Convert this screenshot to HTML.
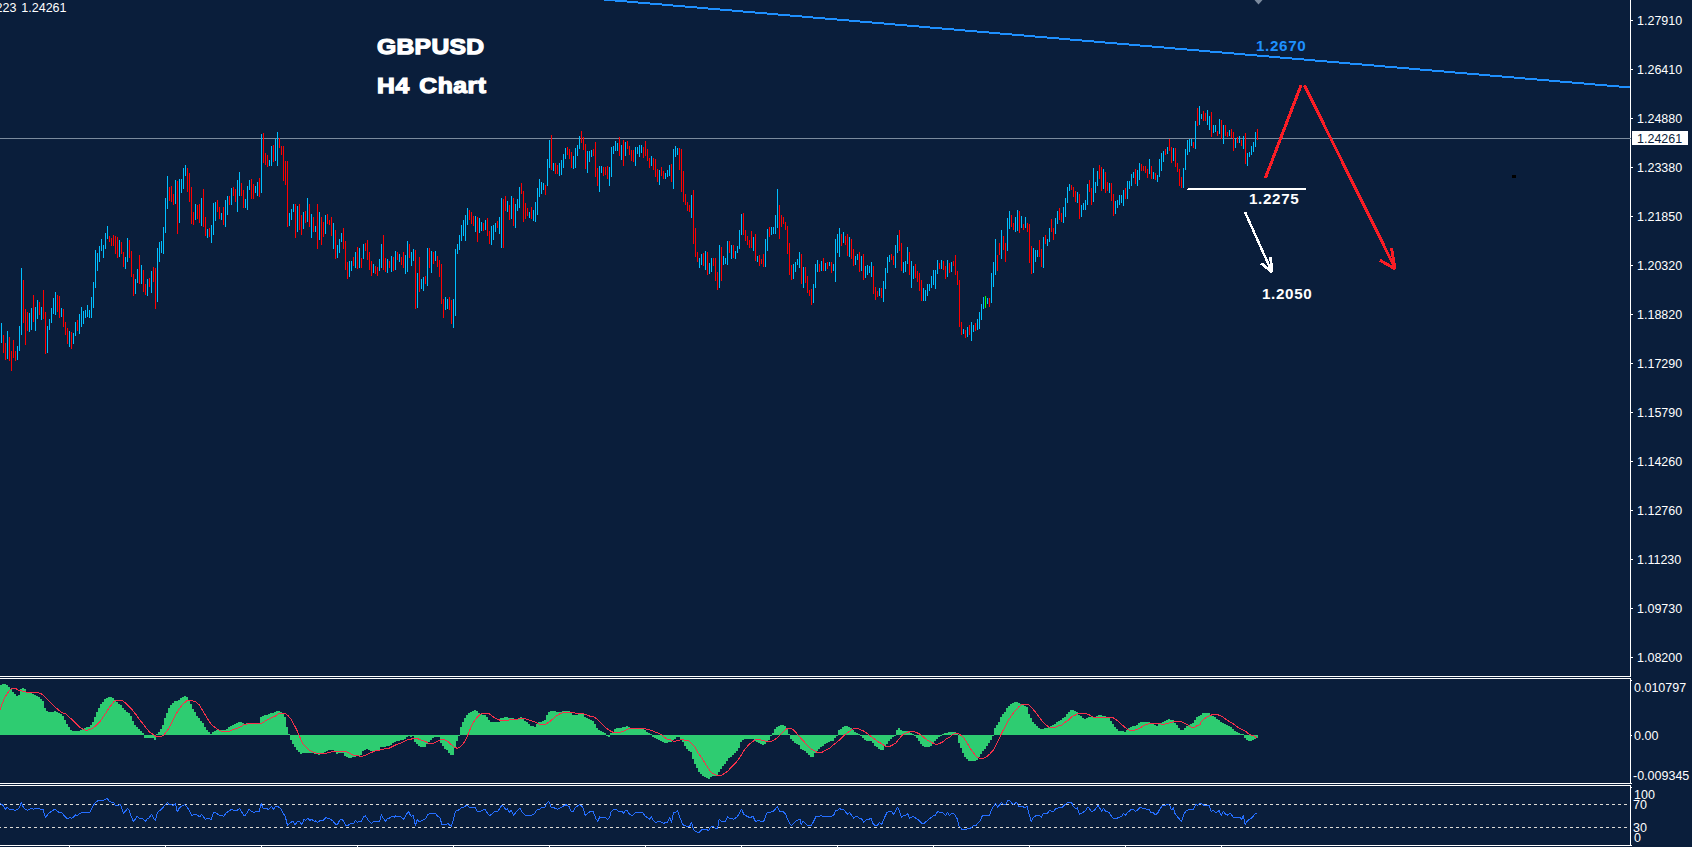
<!DOCTYPE html><html><head><meta charset="utf-8"><title>GBPUSD H4</title><style>
html,body{margin:0;padding:0;background:#0a1e3b;}
body{width:1692px;height:847px;overflow:hidden;position:relative;font-family:"Liberation Sans",sans-serif;}
.ax{position:absolute;color:#fff;font-size:12.5px;line-height:14px;white-space:nowrap;letter-spacing:0px}
.cur{position:absolute;background:#fff;color:#0a1e3b;font-size:12.5px;line-height:14px;white-space:nowrap}
.cur span{position:absolute;left:5px;top:1px}
.ttl{position:absolute;color:#fff;font-weight:bold;font-size:21.8px;line-height:28px;white-space:nowrap;-webkit-text-stroke:1.25px #fff;letter-spacing:0.3px;transform:scaleX(1.13);transform-origin:0 0}
.lv{position:absolute;color:#fff;font-weight:bold;font-size:14px;line-height:16px;white-space:nowrap;letter-spacing:0.6px;transform:scaleX(1.085);transform-origin:0 0}
</style></head><body><svg width="1692" height="847" viewBox="0 0 1692 847" shape-rendering="crispEdges" style="position:absolute;left:0;top:0"><rect x="1630" y="0" width="1" height="677" fill="#ffffff"/><rect x="0" y="676" width="1631" height="1" fill="#ffffff"/><rect x="0" y="678" width="1631" height="1" fill="#ffffff"/><rect x="1630" y="678" width="1" height="106" fill="#ffffff"/><rect x="0" y="783" width="1632" height="1" fill="#ffffff"/><rect x="0" y="785" width="1631" height="1" fill="#ffffff"/><rect x="1630" y="785" width="1" height="61" fill="#ffffff"/><rect x="0" y="845" width="1632" height="1" fill="#ffffff"/><rect x="1631" y="20" width="2" height="1" fill="#ffffff"/><rect x="1631" y="69" width="2" height="1" fill="#ffffff"/><rect x="1631" y="118" width="2" height="1" fill="#ffffff"/><rect x="1631" y="167" width="2" height="1" fill="#ffffff"/><rect x="1631" y="216" width="2" height="1" fill="#ffffff"/><rect x="1631" y="265" width="2" height="1" fill="#ffffff"/><rect x="1631" y="314" width="2" height="1" fill="#ffffff"/><rect x="1631" y="363" width="2" height="1" fill="#ffffff"/><rect x="1631" y="412" width="2" height="1" fill="#ffffff"/><rect x="1631" y="461" width="2" height="1" fill="#ffffff"/><rect x="1631" y="510" width="2" height="1" fill="#ffffff"/><rect x="1631" y="559" width="2" height="1" fill="#ffffff"/><rect x="1631" y="608" width="2" height="1" fill="#ffffff"/><rect x="1631" y="657" width="2" height="1" fill="#ffffff"/><rect x="1631" y="680" width="1" height="1" fill="#ffffff"/><rect x="1631" y="735" width="1" height="1" fill="#ffffff"/><rect x="1631" y="787" width="1" height="1" fill="#ffffff"/><rect x="69" y="846" width="1" height="1" fill="#ffffff"/><rect x="165" y="846" width="1" height="1" fill="#ffffff"/><rect x="261" y="846" width="1" height="1" fill="#ffffff"/><rect x="357" y="846" width="1" height="1" fill="#ffffff"/><rect x="453" y="846" width="1" height="1" fill="#ffffff"/><rect x="549" y="846" width="1" height="1" fill="#ffffff"/><rect x="645" y="846" width="1" height="1" fill="#ffffff"/><rect x="741" y="846" width="1" height="1" fill="#ffffff"/><rect x="837" y="846" width="1" height="1" fill="#ffffff"/><rect x="933" y="846" width="1" height="1" fill="#ffffff"/><rect x="1029" y="846" width="1" height="1" fill="#ffffff"/><rect x="1125" y="846" width="1" height="1" fill="#ffffff"/><rect x="1221" y="846" width="1" height="1" fill="#ffffff"/><rect x="0" y="138" width="1631" height="1" fill="#7b8b9d"/><path d="M0 804.5H1M4 804.5H7M10 804.5H13M16 804.5H19M22 804.5H25M28 804.5H31M34 804.5H37M40 804.5H43M46 804.5H49M52 804.5H55M58 804.5H61M64 804.5H67M70 804.5H73M76 804.5H79M82 804.5H85M88 804.5H91M94 804.5H97M100 804.5H103M106 804.5H109M112 804.5H115M118 804.5H121M124 804.5H127M130 804.5H133M136 804.5H139M142 804.5H145M148 804.5H151M154 804.5H157M160 804.5H163M166 804.5H169M172 804.5H175M178 804.5H181M184 804.5H187M190 804.5H193M196 804.5H199M202 804.5H205M208 804.5H211M214 804.5H217M220 804.5H223M226 804.5H229M232 804.5H235M238 804.5H241M244 804.5H247M250 804.5H253M256 804.5H259M262 804.5H265M268 804.5H271M274 804.5H277M280 804.5H283M286 804.5H289M292 804.5H295M298 804.5H301M304 804.5H307M310 804.5H313M316 804.5H319M322 804.5H325M328 804.5H331M334 804.5H337M340 804.5H343M346 804.5H349M352 804.5H355M358 804.5H361M364 804.5H367M370 804.5H373M376 804.5H379M382 804.5H385M388 804.5H391M394 804.5H397M400 804.5H403M406 804.5H409M412 804.5H415M418 804.5H421M424 804.5H427M430 804.5H433M436 804.5H439M442 804.5H445M448 804.5H451M454 804.5H457M460 804.5H463M466 804.5H469M472 804.5H475M478 804.5H481M484 804.5H487M490 804.5H493M496 804.5H499M502 804.5H505M508 804.5H511M514 804.5H517M520 804.5H523M526 804.5H529M532 804.5H535M538 804.5H541M544 804.5H547M550 804.5H553M556 804.5H559M562 804.5H565M568 804.5H571M574 804.5H577M580 804.5H583M586 804.5H589M592 804.5H595M598 804.5H601M604 804.5H607M610 804.5H613M616 804.5H619M622 804.5H625M628 804.5H631M634 804.5H637M640 804.5H643M646 804.5H649M652 804.5H655M658 804.5H661M664 804.5H667M670 804.5H673M676 804.5H679M682 804.5H685M688 804.5H691M694 804.5H697M700 804.5H703M706 804.5H709M712 804.5H715M718 804.5H721M724 804.5H727M730 804.5H733M736 804.5H739M742 804.5H745M748 804.5H751M754 804.5H757M760 804.5H763M766 804.5H769M772 804.5H775M778 804.5H781M784 804.5H787M790 804.5H793M796 804.5H799M802 804.5H805M808 804.5H811M814 804.5H817M820 804.5H823M826 804.5H829M832 804.5H835M838 804.5H841M844 804.5H847M850 804.5H853M856 804.5H859M862 804.5H865M868 804.5H871M874 804.5H877M880 804.5H883M886 804.5H889M892 804.5H895M898 804.5H901M904 804.5H907M910 804.5H913M916 804.5H919M922 804.5H925M928 804.5H931M934 804.5H937M940 804.5H943M946 804.5H949M952 804.5H955M958 804.5H961M964 804.5H967M970 804.5H973M976 804.5H979M982 804.5H985M988 804.5H991M994 804.5H997M1000 804.5H1003M1006 804.5H1009M1012 804.5H1015M1018 804.5H1021M1024 804.5H1027M1030 804.5H1033M1036 804.5H1039M1042 804.5H1045M1048 804.5H1051M1054 804.5H1057M1060 804.5H1063M1066 804.5H1069M1072 804.5H1075M1078 804.5H1081M1084 804.5H1087M1090 804.5H1093M1096 804.5H1099M1102 804.5H1105M1108 804.5H1111M1114 804.5H1117M1120 804.5H1123M1126 804.5H1129M1132 804.5H1135M1138 804.5H1141M1144 804.5H1147M1150 804.5H1153M1156 804.5H1159M1162 804.5H1165M1168 804.5H1171M1174 804.5H1177M1180 804.5H1183M1186 804.5H1189M1192 804.5H1195M1198 804.5H1201M1204 804.5H1207M1210 804.5H1213M1216 804.5H1219M1222 804.5H1225M1228 804.5H1231M1234 804.5H1237M1240 804.5H1243M1246 804.5H1249M1252 804.5H1255M1258 804.5H1261M1264 804.5H1267M1270 804.5H1273M1276 804.5H1279M1282 804.5H1285M1288 804.5H1291M1294 804.5H1297M1300 804.5H1303M1306 804.5H1309M1312 804.5H1315M1318 804.5H1321M1324 804.5H1327M1330 804.5H1333M1336 804.5H1339M1342 804.5H1345M1348 804.5H1351M1354 804.5H1357M1360 804.5H1363M1366 804.5H1369M1372 804.5H1375M1378 804.5H1381M1384 804.5H1387M1390 804.5H1393M1396 804.5H1399M1402 804.5H1405M1408 804.5H1411M1414 804.5H1417M1420 804.5H1423M1426 804.5H1429M1432 804.5H1435M1438 804.5H1441M1444 804.5H1447M1450 804.5H1453M1456 804.5H1459M1462 804.5H1465M1468 804.5H1471M1474 804.5H1477M1480 804.5H1483M1486 804.5H1489M1492 804.5H1495M1498 804.5H1501M1504 804.5H1507M1510 804.5H1513M1516 804.5H1519M1522 804.5H1525M1528 804.5H1531M1534 804.5H1537M1540 804.5H1543M1546 804.5H1549M1552 804.5H1555M1558 804.5H1561M1564 804.5H1567M1570 804.5H1573M1576 804.5H1579M1582 804.5H1585M1588 804.5H1591M1594 804.5H1597M1600 804.5H1603M1606 804.5H1609M1612 804.5H1615M1618 804.5H1621M1624 804.5H1627" stroke="#dddbd5" stroke-width="1" fill="none"/><path d="M0 827.5H1M4 827.5H7M10 827.5H13M16 827.5H19M22 827.5H25M28 827.5H31M34 827.5H37M40 827.5H43M46 827.5H49M52 827.5H55M58 827.5H61M64 827.5H67M70 827.5H73M76 827.5H79M82 827.5H85M88 827.5H91M94 827.5H97M100 827.5H103M106 827.5H109M112 827.5H115M118 827.5H121M124 827.5H127M130 827.5H133M136 827.5H139M142 827.5H145M148 827.5H151M154 827.5H157M160 827.5H163M166 827.5H169M172 827.5H175M178 827.5H181M184 827.5H187M190 827.5H193M196 827.5H199M202 827.5H205M208 827.5H211M214 827.5H217M220 827.5H223M226 827.5H229M232 827.5H235M238 827.5H241M244 827.5H247M250 827.5H253M256 827.5H259M262 827.5H265M268 827.5H271M274 827.5H277M280 827.5H283M286 827.5H289M292 827.5H295M298 827.5H301M304 827.5H307M310 827.5H313M316 827.5H319M322 827.5H325M328 827.5H331M334 827.5H337M340 827.5H343M346 827.5H349M352 827.5H355M358 827.5H361M364 827.5H367M370 827.5H373M376 827.5H379M382 827.5H385M388 827.5H391M394 827.5H397M400 827.5H403M406 827.5H409M412 827.5H415M418 827.5H421M424 827.5H427M430 827.5H433M436 827.5H439M442 827.5H445M448 827.5H451M454 827.5H457M460 827.5H463M466 827.5H469M472 827.5H475M478 827.5H481M484 827.5H487M490 827.5H493M496 827.5H499M502 827.5H505M508 827.5H511M514 827.5H517M520 827.5H523M526 827.5H529M532 827.5H535M538 827.5H541M544 827.5H547M550 827.5H553M556 827.5H559M562 827.5H565M568 827.5H571M574 827.5H577M580 827.5H583M586 827.5H589M592 827.5H595M598 827.5H601M604 827.5H607M610 827.5H613M616 827.5H619M622 827.5H625M628 827.5H631M634 827.5H637M640 827.5H643M646 827.5H649M652 827.5H655M658 827.5H661M664 827.5H667M670 827.5H673M676 827.5H679M682 827.5H685M688 827.5H691M694 827.5H697M700 827.5H703M706 827.5H709M712 827.5H715M718 827.5H721M724 827.5H727M730 827.5H733M736 827.5H739M742 827.5H745M748 827.5H751M754 827.5H757M760 827.5H763M766 827.5H769M772 827.5H775M778 827.5H781M784 827.5H787M790 827.5H793M796 827.5H799M802 827.5H805M808 827.5H811M814 827.5H817M820 827.5H823M826 827.5H829M832 827.5H835M838 827.5H841M844 827.5H847M850 827.5H853M856 827.5H859M862 827.5H865M868 827.5H871M874 827.5H877M880 827.5H883M886 827.5H889M892 827.5H895M898 827.5H901M904 827.5H907M910 827.5H913M916 827.5H919M922 827.5H925M928 827.5H931M934 827.5H937M940 827.5H943M946 827.5H949M952 827.5H955M958 827.5H961M964 827.5H967M970 827.5H973M976 827.5H979M982 827.5H985M988 827.5H991M994 827.5H997M1000 827.5H1003M1006 827.5H1009M1012 827.5H1015M1018 827.5H1021M1024 827.5H1027M1030 827.5H1033M1036 827.5H1039M1042 827.5H1045M1048 827.5H1051M1054 827.5H1057M1060 827.5H1063M1066 827.5H1069M1072 827.5H1075M1078 827.5H1081M1084 827.5H1087M1090 827.5H1093M1096 827.5H1099M1102 827.5H1105M1108 827.5H1111M1114 827.5H1117M1120 827.5H1123M1126 827.5H1129M1132 827.5H1135M1138 827.5H1141M1144 827.5H1147M1150 827.5H1153M1156 827.5H1159M1162 827.5H1165M1168 827.5H1171M1174 827.5H1177M1180 827.5H1183M1186 827.5H1189M1192 827.5H1195M1198 827.5H1201M1204 827.5H1207M1210 827.5H1213M1216 827.5H1219M1222 827.5H1225M1228 827.5H1231M1234 827.5H1237M1240 827.5H1243M1246 827.5H1249M1252 827.5H1255M1258 827.5H1261M1264 827.5H1267M1270 827.5H1273M1276 827.5H1279M1282 827.5H1285M1288 827.5H1291M1294 827.5H1297M1300 827.5H1303M1306 827.5H1309M1312 827.5H1315M1318 827.5H1321M1324 827.5H1327M1330 827.5H1333M1336 827.5H1339M1342 827.5H1345M1348 827.5H1351M1354 827.5H1357M1360 827.5H1363M1366 827.5H1369M1372 827.5H1375M1378 827.5H1381M1384 827.5H1387M1390 827.5H1393M1396 827.5H1399M1402 827.5H1405M1408 827.5H1411M1414 827.5H1417M1420 827.5H1423M1426 827.5H1429M1432 827.5H1435M1438 827.5H1441M1444 827.5H1447M1450 827.5H1453M1456 827.5H1459M1462 827.5H1465M1468 827.5H1471M1474 827.5H1477M1480 827.5H1483M1486 827.5H1489M1492 827.5H1495M1498 827.5H1501M1504 827.5H1507M1510 827.5H1513M1516 827.5H1519M1522 827.5H1525M1528 827.5H1531M1534 827.5H1537M1540 827.5H1543M1546 827.5H1549M1552 827.5H1555M1558 827.5H1561M1564 827.5H1567M1570 827.5H1573M1576 827.5H1579M1582 827.5H1585M1588 827.5H1591M1594 827.5H1597M1600 827.5H1603M1606 827.5H1609M1612 827.5H1615M1618 827.5H1621M1624 827.5H1627" stroke="#dddbd5" stroke-width="1" fill="none"/><path d="M0 685h2V735h-2zM2 684h2V735h-2zM4 684h2V735h-2zM6 685h2V735h-2zM8 687h2V735h-2zM10 689h2V735h-2zM12 692h2V735h-2zM14 694h2V735h-2zM16 696h2V735h-2zM18 695h2V735h-2zM20 689h2V735h-2zM22 688h2V735h-2zM24 689h2V735h-2zM26 692h2V735h-2zM28 692h2V735h-2zM30 693h2V735h-2zM32 694h2V735h-2zM34 695h2V735h-2zM36 696h2V735h-2zM38 697h2V735h-2zM40 699h2V735h-2zM42 701h2V735h-2zM44 708h2V735h-2zM46 711h2V735h-2zM48 712h2V735h-2zM50 712h2V735h-2zM52 712h2V735h-2zM54 711h2V735h-2zM56 712h2V735h-2zM58 713h2V735h-2zM60 714h2V735h-2zM62 716h2V735h-2zM64 720h2V735h-2zM66 724h2V735h-2zM68 727h2V735h-2zM70 730h2V735h-2zM72 731h2V735h-2zM74 731h2V735h-2zM76 731h2V735h-2zM78 731h2V735h-2zM80 730h2V735h-2zM82 729h2V735h-2zM84 728h2V735h-2zM86 727h2V735h-2zM88 727h2V735h-2zM90 725h2V735h-2zM92 722h2V735h-2zM94 717h2V735h-2zM96 712h2V735h-2zM98 708h2V735h-2zM100 704h2V735h-2zM102 702h2V735h-2zM104 699h2V735h-2zM106 698h2V735h-2zM108 697h2V735h-2zM110 697h2V735h-2zM112 698h2V735h-2zM114 700h2V735h-2zM116 702h2V735h-2zM118 704h2V735h-2zM120 705h2V735h-2zM122 708h2V735h-2zM124 710h2V735h-2zM126 712h2V735h-2zM128 713h2V735h-2zM130 716h2V735h-2zM132 721h2V735h-2zM134 725h2V735h-2zM136 727h2V735h-2zM138 729h2V735h-2zM140 731h2V735h-2zM142 733h2V735h-2zM144 735h2V738h-2zM146 735h2V738h-2zM148 735h2V738h-2zM150 735h2V738h-2zM152 735h2V738h-2zM154 735h2V740h-2zM156 734h2V735h-2zM158 732h2V735h-2zM160 729h2V735h-2zM162 725h2V735h-2zM164 718h2V735h-2zM166 713h2V735h-2zM168 708h2V735h-2zM170 705h2V735h-2zM172 703h2V735h-2zM174 701h2V735h-2zM176 701h2V735h-2zM178 700h2V735h-2zM180 698h2V735h-2zM182 697h2V735h-2zM184 696h2V735h-2zM186 697h2V735h-2zM188 700h2V735h-2zM190 704h2V735h-2zM192 709h2V735h-2zM194 712h2V735h-2zM196 716h2V735h-2zM198 718h2V735h-2zM200 721h2V735h-2zM202 723h2V735h-2zM204 727h2V735h-2zM206 730h2V735h-2zM208 732h2V735h-2zM210 734h2V735h-2zM212 732h2V735h-2zM214 731h2V735h-2zM216 730h2V735h-2zM218 730h2V735h-2zM220 730h2V735h-2zM222 730h2V735h-2zM224 730h2V735h-2zM226 729h2V735h-2zM228 727h2V735h-2zM230 726h2V735h-2zM232 725h2V735h-2zM234 724h2V735h-2zM236 723h2V735h-2zM238 722h2V735h-2zM240 722h2V735h-2zM242 723h2V735h-2zM244 724h2V735h-2zM246 723h2V735h-2zM248 723h2V735h-2zM250 723h2V735h-2zM252 723h2V735h-2zM254 723h2V735h-2zM256 723h2V735h-2zM258 723h2V735h-2zM260 717h2V735h-2zM262 716h2V735h-2zM264 715h2V735h-2zM266 715h2V735h-2zM268 714h2V735h-2zM270 713h2V735h-2zM272 713h2V735h-2zM274 712h2V735h-2zM276 711h2V735h-2zM278 711h2V735h-2zM280 712h2V735h-2zM282 714h2V735h-2zM284 717h2V735h-2zM286 727h2V735h-2zM288 734h2V735h-2zM290 735h2V740h-2zM292 735h2V744h-2zM294 735h2V747h-2zM296 735h2V750h-2zM298 735h2V752h-2zM300 735h2V754h-2zM302 735h2V753h-2zM304 735h2V753h-2zM306 735h2V753h-2zM308 735h2V753h-2zM310 735h2V753h-2zM312 735h2V753h-2zM314 735h2V754h-2zM316 735h2V754h-2zM318 735h2V755h-2zM320 735h2V754h-2zM322 735h2V753h-2zM324 735h2V752h-2zM326 735h2V751h-2zM328 735h2V750h-2zM330 735h2V750h-2zM332 735h2V750h-2zM334 735h2V752h-2zM336 735h2V754h-2zM338 735h2V753h-2zM340 735h2V753h-2zM342 735h2V753h-2zM344 735h2V756h-2zM346 735h2V757h-2zM348 735h2V758h-2zM350 735h2V758h-2zM352 735h2V757h-2zM354 735h2V757h-2zM356 735h2V756h-2zM358 735h2V756h-2zM360 735h2V755h-2zM362 735h2V751h-2zM364 735h2V750h-2zM366 735h2V749h-2zM368 735h2V750h-2zM370 735h2V751h-2zM372 735h2V751h-2zM374 735h2V751h-2zM376 735h2V751h-2zM378 735h2V750h-2zM380 735h2V747h-2zM382 735h2V747h-2zM384 735h2V747h-2zM386 735h2V746h-2zM388 735h2V746h-2zM390 735h2V745h-2zM392 735h2V743h-2zM394 735h2V742h-2zM396 735h2V741h-2zM398 735h2V741h-2zM400 735h2V740h-2zM402 735h2V740h-2zM404 735h2V739h-2zM406 735h2V737h-2zM408 735h2V736h-2zM410 735h2V737h-2zM412 735h2V736h-2zM414 735h2V742h-2zM416 735h2V744h-2zM418 735h2V746h-2zM420 735h2V747h-2zM422 735h2V747h-2zM424 735h2V747h-2zM426 735h2V744h-2zM428 735h2V742h-2zM430 735h2V740h-2zM432 735h2V738h-2zM434 735h2V737h-2zM436 735h2V737h-2zM438 735h2V737h-2zM440 735h2V743h-2zM442 735h2V746h-2zM444 735h2V749h-2zM446 735h2V750h-2zM448 735h2V753h-2zM450 735h2V755h-2zM452 735h2V755h-2zM454 735h2V747h-2zM456 735h2V741h-2zM458 735h2V736h-2zM460 727h2V735h-2zM462 722h2V735h-2zM464 718h2V735h-2zM466 715h2V735h-2zM468 713h2V735h-2zM470 712h2V735h-2zM472 711h2V735h-2zM474 710h2V735h-2zM476 711h2V735h-2zM478 713h2V735h-2zM480 714h2V735h-2zM482 715h2V735h-2zM484 715h2V735h-2zM486 717h2V735h-2zM488 720h2V735h-2zM490 722h2V735h-2zM492 722h2V735h-2zM494 722h2V735h-2zM496 722h2V735h-2zM498 722h2V735h-2zM500 718h2V735h-2zM502 718h2V735h-2zM504 717h2V735h-2zM506 717h2V735h-2zM508 718h2V735h-2zM510 718h2V735h-2zM512 718h2V735h-2zM514 719h2V735h-2zM516 720h2V735h-2zM518 718h2V735h-2zM520 717h2V735h-2zM522 718h2V735h-2zM524 721h2V735h-2zM526 722h2V735h-2zM528 724h2V735h-2zM530 726h2V735h-2zM532 726h2V735h-2zM534 727h2V735h-2zM536 724h2V735h-2zM538 722h2V735h-2zM540 722h2V735h-2zM542 721h2V735h-2zM544 720h2V735h-2zM546 715h2V735h-2zM548 712h2V735h-2zM550 711h2V735h-2zM552 711h2V735h-2zM554 711h2V735h-2zM556 712h2V735h-2zM558 712h2V735h-2zM560 712h2V735h-2zM562 711h2V735h-2zM564 711h2V735h-2zM566 711h2V735h-2zM568 711h2V735h-2zM570 712h2V735h-2zM572 715h2V735h-2zM574 715h2V735h-2zM576 715h2V735h-2zM578 714h2V735h-2zM580 713h2V735h-2zM582 714h2V735h-2zM584 717h2V735h-2zM586 718h2V735h-2zM588 719h2V735h-2zM590 720h2V735h-2zM592 721h2V735h-2zM594 724h2V735h-2zM596 728h2V735h-2zM598 730h2V735h-2zM600 731h2V735h-2zM602 732h2V735h-2zM604 733h2V735h-2zM606 735h2V736h-2zM608 735h2V737h-2zM610 733h2V735h-2zM612 732h2V735h-2zM614 729h2V735h-2zM616 728h2V735h-2zM618 728h2V735h-2zM620 728h2V735h-2zM622 727h2V735h-2zM624 727h2V735h-2zM626 726h2V735h-2zM628 727h2V735h-2zM630 728h2V735h-2zM632 728h2V735h-2zM634 728h2V735h-2zM636 728h2V735h-2zM638 728h2V735h-2zM640 728h2V735h-2zM642 728h2V735h-2zM644 730h2V735h-2zM646 732h2V735h-2zM648 733h2V735h-2zM650 734h2V735h-2zM652 735h2V737h-2zM654 735h2V738h-2zM656 735h2V739h-2zM658 735h2V740h-2zM660 735h2V741h-2zM662 735h2V742h-2zM664 735h2V743h-2zM666 735h2V743h-2zM668 735h2V742h-2zM670 735h2V742h-2zM672 735h2V740h-2zM674 735h2V739h-2zM676 735h2V737h-2zM678 735h2V737h-2zM680 735h2V740h-2zM682 735h2V742h-2zM684 735h2V746h-2zM686 735h2V749h-2zM688 735h2V751h-2zM690 735h2V752h-2zM692 735h2V759h-2zM694 735h2V764h-2zM696 735h2V768h-2zM698 735h2V772h-2zM700 735h2V774h-2zM702 735h2V776h-2zM704 735h2V777h-2zM706 735h2V778h-2zM708 735h2V779h-2zM710 735h2V777h-2zM712 735h2V776h-2zM714 735h2V776h-2zM716 735h2V775h-2zM718 735h2V772h-2zM720 735h2V769h-2zM722 735h2V766h-2zM724 735h2V764h-2zM726 735h2V761h-2zM728 735h2V758h-2zM730 735h2V757h-2zM732 735h2V755h-2zM734 735h2V753h-2zM736 735h2V751h-2zM738 735h2V748h-2zM740 735h2V742h-2zM742 735h2V740h-2zM744 735h2V739h-2zM746 735h2V739h-2zM748 735h2V739h-2zM750 735h2V739h-2zM752 735h2V739h-2zM754 735h2V741h-2zM756 735h2V742h-2zM758 735h2V743h-2zM760 735h2V744h-2zM762 735h2V745h-2zM764 735h2V744h-2zM766 735h2V742h-2zM768 735h2V740h-2zM770 735h2V736h-2zM772 733h2V735h-2zM774 729h2V735h-2zM776 727h2V735h-2zM778 726h2V735h-2zM780 725h2V735h-2zM782 725h2V735h-2zM784 726h2V735h-2zM786 729h2V735h-2zM788 734h2V735h-2zM790 735h2V739h-2zM792 735h2V741h-2zM794 735h2V743h-2zM796 735h2V744h-2zM798 735h2V745h-2zM800 735h2V749h-2zM802 735h2V750h-2zM804 735h2V751h-2zM806 735h2V753h-2zM808 735h2V755h-2zM810 735h2V757h-2zM812 735h2V757h-2zM814 735h2V753h-2zM816 735h2V751h-2zM818 735h2V749h-2zM820 735h2V747h-2zM822 735h2V746h-2zM824 735h2V744h-2zM826 735h2V743h-2zM828 735h2V742h-2zM830 735h2V741h-2zM832 735h2V741h-2zM834 735h2V738h-2zM836 735h2V736h-2zM838 730h2V735h-2zM840 729h2V735h-2zM842 727h2V735h-2zM844 726h2V735h-2zM846 726h2V735h-2zM848 727h2V735h-2zM850 728h2V735h-2zM852 730h2V735h-2zM854 732h2V735h-2zM856 733h2V735h-2zM858 734h2V735h-2zM860 735h2V736h-2zM862 735h2V738h-2zM864 735h2V740h-2zM866 735h2V741h-2zM868 735h2V741h-2zM870 735h2V741h-2zM872 735h2V743h-2zM874 735h2V746h-2zM876 735h2V747h-2zM878 735h2V749h-2zM880 735h2V750h-2zM882 735h2V750h-2zM884 735h2V746h-2zM886 735h2V744h-2zM888 735h2V741h-2zM890 735h2V739h-2zM892 735h2V737h-2zM894 735h2V736h-2zM896 730h2V735h-2zM898 728h2V735h-2zM900 730h2V735h-2zM902 731h2V735h-2zM904 731h2V735h-2zM906 731h2V735h-2zM908 732h2V735h-2zM910 733h2V735h-2zM912 734h2V735h-2zM914 735h2V736h-2zM916 735h2V738h-2zM918 735h2V741h-2zM920 735h2V744h-2zM922 735h2V746h-2zM924 735h2V747h-2zM926 735h2V747h-2zM928 735h2V747h-2zM930 735h2V746h-2zM932 735h2V743h-2zM934 735h2V741h-2zM936 735h2V739h-2zM938 735h2V737h-2zM940 735h2V736h-2zM942 734h2V735h-2zM944 733h2V735h-2zM946 733h2V735h-2zM948 732h2V735h-2zM950 732h2V735h-2zM952 732h2V735h-2zM954 732h2V735h-2zM956 734h2V735h-2zM958 735h2V743h-2zM960 735h2V748h-2zM962 735h2V753h-2zM964 735h2V757h-2zM966 735h2V759h-2zM968 735h2V761h-2zM970 735h2V761h-2zM972 735h2V761h-2zM974 735h2V761h-2zM976 735h2V760h-2zM978 735h2V757h-2zM980 735h2V754h-2zM982 735h2V751h-2zM984 735h2V749h-2zM986 735h2V746h-2zM988 735h2V743h-2zM990 735h2V740h-2zM992 735h2V736h-2zM994 728h2V735h-2zM996 725h2V735h-2zM998 722h2V735h-2zM1000 717h2V735h-2zM1002 714h2V735h-2zM1004 712h2V735h-2zM1006 708h2V735h-2zM1008 706h2V735h-2zM1010 704h2V735h-2zM1012 703h2V735h-2zM1014 702h2V735h-2zM1016 702h2V735h-2zM1018 703h2V735h-2zM1020 704h2V735h-2zM1022 705h2V735h-2zM1024 706h2V735h-2zM1026 707h2V735h-2zM1028 714h2V735h-2zM1030 718h2V735h-2zM1032 722h2V735h-2zM1034 724h2V735h-2zM1036 726h2V735h-2zM1038 728h2V735h-2zM1040 729h2V735h-2zM1042 729h2V735h-2zM1044 728h2V735h-2zM1046 728h2V735h-2zM1048 727h2V735h-2zM1050 726h2V735h-2zM1052 725h2V735h-2zM1054 724h2V735h-2zM1056 722h2V735h-2zM1058 721h2V735h-2zM1060 720h2V735h-2zM1062 718h2V735h-2zM1064 717h2V735h-2zM1066 714h2V735h-2zM1068 712h2V735h-2zM1070 710h2V735h-2zM1072 710h2V735h-2zM1074 711h2V735h-2zM1076 712h2V735h-2zM1078 715h2V735h-2zM1080 716h2V735h-2zM1082 718h2V735h-2zM1084 719h2V735h-2zM1086 718h2V735h-2zM1088 717h2V735h-2zM1090 717h2V735h-2zM1092 717h2V735h-2zM1094 717h2V735h-2zM1096 716h2V735h-2zM1098 715h2V735h-2zM1100 715h2V735h-2zM1102 716h2V735h-2zM1104 716h2V735h-2zM1106 717h2V735h-2zM1108 718h2V735h-2zM1110 721h2V735h-2zM1112 724h2V735h-2zM1114 727h2V735h-2zM1116 729h2V735h-2zM1118 731h2V735h-2zM1120 731h2V735h-2zM1122 731h2V735h-2zM1124 732h2V735h-2zM1126 730h2V735h-2zM1128 728h2V735h-2zM1130 727h2V735h-2zM1132 726h2V735h-2zM1134 726h2V735h-2zM1136 725h2V735h-2zM1138 723h2V735h-2zM1140 722h2V735h-2zM1142 722h2V735h-2zM1144 722h2V735h-2zM1146 722h2V735h-2zM1148 722h2V735h-2zM1150 724h2V735h-2zM1152 724h2V735h-2zM1154 725h2V735h-2zM1156 726h2V735h-2zM1158 724h2V735h-2zM1160 723h2V735h-2zM1162 722h2V735h-2zM1164 721h2V735h-2zM1166 720h2V735h-2zM1168 719h2V735h-2zM1170 720h2V735h-2zM1172 720h2V735h-2zM1174 723h2V735h-2zM1176 725h2V735h-2zM1178 728h2V735h-2zM1180 730h2V735h-2zM1182 730h2V735h-2zM1184 728h2V735h-2zM1186 726h2V735h-2zM1188 725h2V735h-2zM1190 724h2V735h-2zM1192 723h2V735h-2zM1194 720h2V735h-2zM1196 717h2V735h-2zM1198 716h2V735h-2zM1200 715h2V735h-2zM1202 713h2V735h-2zM1204 713h2V735h-2zM1206 713h2V735h-2zM1208 713h2V735h-2zM1210 715h2V735h-2zM1212 716h2V735h-2zM1214 717h2V735h-2zM1216 719h2V735h-2zM1218 720h2V735h-2zM1220 722h2V735h-2zM1222 723h2V735h-2zM1224 724h2V735h-2zM1226 725h2V735h-2zM1228 726h2V735h-2zM1230 727h2V735h-2zM1232 729h2V735h-2zM1234 731h2V735h-2zM1236 732h2V735h-2zM1238 733h2V735h-2zM1240 734h2V735h-2zM1242 734h2V735h-2zM1244 735h2V738h-2zM1246 735h2V740h-2zM1248 735h2V741h-2zM1250 735h2V741h-2zM1252 735h2V740h-2zM1254 735h2V739h-2zM1256 735h2V738h-2z" fill="#2ecc71" stroke="none"/><polyline points="0.0,709.8 2.4,703.3 4.7,697.4 7.1,693.8 10.0,689.7 12.4,688.5 15.4,688.5 18.9,690.3 23.6,691.5 28.4,692.6 33.1,692.6 37.8,692.6 42.6,694.4 47.3,699.1 52.0,703.9 55.6,707.4 59.1,710.4 62.1,712.7 66.2,714.2 70.9,718.6 75.7,723.4 79.2,726.9 82.7,728.7 85.7,730.5 88.7,729.9 92.2,728.7 95.7,725.7 100.5,721.0 105.2,713.9 109.9,706.8 114.1,701.5 116.4,700.3 122.3,700.3 126.5,703.9 131.2,708.6 135.9,714.5 140.7,721.0 145.4,726.9 149.5,732.2 152.5,734.0 156.0,736.4 159.6,737.0 163.7,735.2 167.8,729.9 171.4,723.4 174.9,716.3 178.5,709.8 182.6,704.5 186.8,700.7 191.5,700.3 196.2,702.1 200.0,705.6 200.0,706.2 203.5,712.1 207.1,718.1 210.6,723.4 214.2,726.9 217.7,729.3 221.3,731.1 225.4,731.6 229.6,731.1 233.1,729.5 236.6,728.7 240.2,726.9 243.7,724.8 247.3,724.0 250.8,723.4 255.6,723.4 261.5,723.4 266.2,720.4 270.9,718.1 275.7,716.0 278.6,713.3 285.1,713.3 288.1,715.7 291.0,719.2 294.6,725.7 298.1,732.8 300.5,738.7 302.8,743.5 306.4,747.6 309.9,750.6 313.5,752.3 318.2,753.5 322.9,753.5 327.7,752.9 332.4,751.7 337.1,751.1 341.8,751.4 346.6,751.7 350.1,753.5 353.7,755.3 358.4,755.9 360.8,756.5 365.5,755.3 370.2,752.9 374.9,751.1 379.7,750.0 384.4,748.8 389.1,748.2 393.9,745.8 400.0,742.9 400.0,743.5 403.5,741.7 407.1,739.9 410.6,739.3 413.0,738.5 417.7,738.7 421.3,740.2 424.8,741.1 429.0,743.5 433.1,743.5 436.6,741.7 440.2,739.7 443.7,739.3 447.3,741.1 450.8,744.1 453.8,746.8 457.3,748.4 460.3,747.0 463.8,742.9 466.8,737.6 469.1,731.6 472.1,724.6 475.1,719.8 478.6,715.7 482.2,713.3 488.7,713.3 493.4,716.9 496.9,718.9 500.5,720.4 506.4,720.4 511.1,719.6 517.0,719.2 520.6,718.1 523.5,718.4 527.7,719.6 532.4,721.0 535.9,722.2 539.5,724.3 545.4,724.3 548.9,722.2 552.5,719.2 556.6,715.7 560.8,713.3 564.3,712.5 572.6,712.5 576.1,713.3 582.0,713.3 586.8,714.9 590.3,716.3 593.9,716.9 597.4,719.2 600.0,722.2 600.0,722.2 603.5,725.7 607.1,728.7 610.6,731.1 613.6,732.6 618.9,732.6 623.6,731.1 628.4,728.7 634.3,728.3 643.7,728.3 647.3,729.5 652.0,730.5 656.7,732.6 661.5,734.6 666.2,738.7 670.9,739.9 673.9,741.7 678.0,740.5 681.6,739.6 685.1,740.2 688.7,740.5 691.6,743.5 695.2,747.0 698.1,752.9 701.7,757.7 705.2,763.6 708.7,768.9 711.7,773.0 715.2,774.8 718.2,775.6 721.7,775.1 725.3,773.0 728.8,770.1 732.4,765.9 737.1,761.2 740.7,755.9 744.8,749.4 748.9,744.6 752.5,741.7 755.4,739.6 759.6,739.6 763.1,740.5 766.7,741.7 770.8,741.5 774.9,739.7 778.5,736.4 782.6,732.2 786.8,728.7 789.7,728.1 792.7,729.3 796.2,732.8 800.0,737.0 800.0,737.6 803.5,741.1 807.1,745.2 810.6,748.8 814.2,750.6 817.7,752.7 821.3,752.7 824.8,750.6 829.6,748.4 834.3,744.1 839.0,740.5 843.7,735.8 847.3,732.8 852.0,729.3 855.6,728.3 859.1,729.0 863.8,731.1 868.6,734.6 873.3,738.1 878.0,741.7 881.6,743.5 884.5,745.8 888.7,746.8 892.2,745.2 895.7,743.2 899.3,738.7 902.8,734.6 906.4,732.6 909.9,731.6 913.5,731.4 917.0,732.8 920.6,734.6 924.1,737.6 927.7,740.5 932.4,742.9 935.9,744.6 939.5,743.5 943.0,741.7 946.6,738.7 950.1,737.0 952.5,734.6 956.0,733.4 959.0,734.0 963.1,737.0 966.7,742.3 970.2,748.2 973.8,753.5 977.3,757.1 979.7,758.6 983.2,758.6 986.8,756.5 990.3,753.5 993.9,749.4 996.8,743.5 1000.0,737.0 1000.0,736.6 1002.4,731.6 1005.3,726.3 1008.3,720.4 1011.8,715.1 1015.4,710.4 1018.9,706.8 1021.9,704.5 1028.4,704.5 1031.3,707.4 1035.5,712.1 1039.6,717.5 1043.1,722.2 1046.7,725.5 1049.6,727.5 1055.0,727.5 1059.1,725.5 1061.5,725.5 1064.4,722.8 1068.0,720.4 1072.1,716.5 1075.7,714.9 1078.6,713.3 1084.5,713.3 1088.7,714.5 1093.4,717.2 1098.1,717.5 1102.8,717.5 1107.6,717.5 1112.3,717.2 1116.4,719.8 1120.6,723.4 1124.1,726.7 1127.7,729.3 1130.0,730.7 1133.6,730.5 1137.1,729.3 1141.8,726.9 1145.4,724.8 1148.9,723.6 1153.7,723.4 1158.4,723.4 1161.9,724.3 1165.5,724.0 1170.2,722.8 1174.9,721.6 1180.3,721.2 1184.4,723.4 1187.9,725.1 1191.5,727.5 1193.9,727.5 1197.4,725.5 1200.0,724.6 1200.0,722.8 1203.2,719.8 1206.7,717.2 1210.3,715.5 1213.2,714.3 1216.8,714.5 1220.9,715.7 1225.7,719.2 1230.4,722.2 1234.5,724.6 1238.1,727.5 1241.6,729.3 1244.6,730.5 1248.1,733.4 1251.7,735.2 1254.6,736.4 1257.0,737.8" fill="none" stroke="#f7304a" stroke-width="1" shape-rendering="crispEdges" stroke-linejoin="round"/><polyline points="0.0,803.5 2.4,804.5 5.3,809.5 7.1,807.3 9.5,809.5 13.0,809.5 15.4,810.4 18.3,808.9 20.1,805.9 21.5,802.1 23.0,806.5 24.8,808.9 27.4,810.4 30.7,808.5 33.7,809.2 35.5,808.3 38.4,808.5 40.8,809.5 43.1,809.7 45.5,817.7 47.9,814.2 50.8,811.6 55.0,809.2 57.9,811.6 59.7,813.0 61.5,812.4 64.4,816.0 67.4,818.7 70.3,817.5 71.5,818.7 75.7,814.8 77.4,815.4 81.6,812.4 86.3,812.2 89.8,812.2 92.2,807.7 94.6,803.5 97.5,800.9 100.5,800.2 104.0,800.0 107.0,798.2 109.3,801.2 111.7,802.4 113.5,802.4 115.2,805.3 118.2,805.3 120.6,804.7 123.5,813.2 125.3,811.2 127.7,808.3 129.4,810.6 131.2,816.6 133.6,821.9 137.1,816.3 139.5,818.3 142.4,818.7 145.4,821.5 147.2,818.7 148.9,818.0 151.5,814.4 153.7,818.3 155.4,820.5 156.6,814.8 158.4,811.2 161.3,809.5 164.3,805.9 167.3,802.4 169.0,804.5 173.2,805.3 175.5,803.5 177.3,811.8 179.1,808.3 182.0,805.9 185.0,804.7 187.4,807.7 189.1,810.0 191.5,815.4 195.6,814.4 198.6,816.0 200.0,817.1 200.0,815.4 201.8,814.8 205.3,819.2 208.3,818.3 211.2,819.5 213.6,812.4 215.4,812.4 218.9,815.1 221.9,815.4 223.6,816.6 226.6,812.4 229.0,811.2 231.3,809.2 234.3,810.6 236.6,810.6 239.6,808.5 242.0,812.4 243.7,815.6 245.5,815.1 249.1,809.5 252.0,811.8 253.8,812.4 256.7,811.2 259.1,812.1 261.2,803.5 263.2,808.3 266.2,808.5 268.6,809.5 271.5,806.5 273.3,809.2 275.7,806.5 278.0,806.5 281.0,808.9 282.7,812.4 285.1,816.0 287.5,825.4 289.8,823.1 292.8,821.3 295.2,824.6 297.5,821.5 299.9,821.9 301.7,824.6 304.0,819.5 305.8,820.3 307.6,818.3 309.9,820.3 311.7,819.5 314.1,821.3 315.2,820.7 317.6,822.5 320.0,820.7 323.5,820.3 325.9,817.5 329.4,818.7 333.0,821.0 335.9,824.8 337.7,824.2 340.1,819.5 341.8,819.2 343.6,821.3 346.0,825.4 347.8,825.4 350.7,823.6 353.7,823.4 355.4,820.7 357.2,822.2 361.3,821.3 363.7,816.6 365.5,816.0 367.8,819.5 371.4,823.4 373.8,821.5 379.7,821.3 381.4,814.8 383.2,818.0 385.3,821.5 387.4,818.7 390.3,817.7 392.7,816.0 394.4,817.1 395.6,815.6 398.0,817.1 400.0,816.0 400.0,816.0 403.5,819.5 405.9,815.4 408.3,811.2 411.2,816.6 413.2,815.4 415.4,825.8 417.1,819.5 419.5,821.9 422.5,820.1 425.4,818.9 427.8,814.8 430.7,813.2 433.7,814.0 435.5,813.2 437.8,816.6 439.6,817.1 442.0,824.6 445.5,824.6 447.9,823.4 451.4,826.6 453.8,817.7 455.6,811.2 458.5,810.0 461.5,807.7 464.4,806.9 467.1,805.0 469.7,807.7 475.1,807.7 477.4,811.6 480.4,811.2 482.7,810.0 485.1,809.7 486.9,812.4 489.6,815.6 492.2,813.6 495.2,811.2 498.1,811.2 500.5,807.1 502.2,805.0 504.6,808.0 506.4,810.0 507.6,808.9 509.3,812.4 511.1,810.0 513.5,815.4 515.8,812.4 518.2,809.7 520.3,808.3 522.3,812.4 525.3,815.4 531.2,815.6 534.2,814.0 537.1,809.7 539.5,809.2 541.8,807.7 544.8,807.7 547.2,803.0 548.7,801.2 551.3,807.3 553.7,807.7 557.2,809.2 560.8,807.7 563.7,805.9 566.1,804.7 569.0,806.5 571.4,811.6 573.2,811.6 574.9,808.3 577.3,806.1 579.7,804.7 582.6,806.9 585.3,815.4 587.9,813.0 590.3,811.6 593.3,811.6 595.6,818.0 597.6,821.3 600.0,816.6 600.0,817.5 605.3,817.5 607.7,819.5 609.5,817.7 611.2,811.6 613.6,809.5 616.0,809.2 618.3,811.2 620.1,812.1 621.9,811.2 623.6,813.2 625.4,810.4 627.2,810.9 629.6,814.4 632.5,815.6 635.5,812.4 642.6,812.4 644.9,816.0 647.3,817.5 649.6,819.2 651.4,816.6 653.2,820.1 655.6,822.5 659.1,821.3 660.9,821.9 663.8,823.4 665.6,822.2 667.6,822.2 669.7,817.5 671.5,822.5 673.5,812.4 675.7,812.1 677.4,810.4 679.2,815.4 681.6,821.9 683.3,825.1 686.3,826.2 689.6,826.2 691.6,822.2 693.4,829.3 695.7,831.7 698.7,832.7 701.7,829.6 704.0,830.1 705.8,829.3 708.7,830.5 711.1,826.6 713.5,826.6 715.2,828.4 717.6,829.0 719.1,819.2 721.2,821.5 725.3,821.3 727.7,816.6 729.4,818.3 731.2,818.3 733.6,819.2 737.1,817.1 739.5,813.0 741.6,809.2 743.6,814.0 746.6,816.0 749.5,817.5 753.1,816.6 755.4,821.3 759.0,820.7 760.8,821.5 763.7,821.3 766.7,813.0 769.0,812.4 773.2,811.6 775.5,808.9 777.3,806.5 779.7,811.2 783.2,811.6 785.6,814.0 787.9,820.1 789.7,823.6 791.5,825.4 794.4,822.5 797.4,820.1 800.0,819.5 800.0,821.9 801.2,824.2 803.0,821.3 807.7,825.4 811.2,825.8 813.6,821.3 816.0,816.6 818.9,816.6 821.3,815.4 823.6,816.8 830.7,816.6 833.7,815.4 835.5,810.6 837.8,810.0 839.6,808.3 841.4,809.7 843.1,809.2 845.5,811.8 847.9,814.4 849.6,812.4 852.0,816.0 853.8,818.3 856.1,816.3 857.9,816.6 859.7,818.9 861.2,818.3 863.8,822.5 866.8,819.2 869.1,819.2 870.9,818.3 873.3,824.2 875.7,825.8 877.4,825.4 879.4,822.5 881.6,824.6 883.9,818.9 886.9,812.8 889.2,811.2 891.6,811.8 894.0,814.4 895.7,810.6 897.5,807.3 899.3,810.6 901.4,817.1 904.0,815.4 905.8,815.4 907.6,813.6 909.7,818.3 912.9,816.3 915.8,818.3 918.8,820.1 921.7,823.4 924.1,823.4 927.7,820.1 930.6,818.0 933.6,815.4 935.3,815.1 937.7,811.6 940.1,812.4 942.4,812.4 945.6,815.4 947.5,812.4 949.5,815.4 951.9,813.2 954.3,814.0 957.2,818.9 959.0,826.0 961.9,829.3 965.5,829.6 967.8,828.4 970.2,828.4 973.8,825.4 975.5,826.0 979.7,821.3 982.6,815.4 989.7,815.4 991.5,809.5 993.9,805.9 995.6,803.5 997.6,807.3 1000.0,804.5 1000.0,804.5 1001.4,802.4 1003.5,804.5 1005.9,804.5 1007.7,800.9 1009.7,800.2 1011.8,803.5 1013.6,804.5 1016.5,802.4 1018.9,806.5 1022.5,806.5 1024.2,807.3 1027.2,806.9 1029.6,816.0 1031.3,821.5 1033.1,817.5 1036.6,815.4 1039.6,815.6 1041.4,817.5 1043.1,813.6 1047.3,813.2 1049.6,810.4 1052.0,811.6 1053.8,811.2 1055.6,808.9 1059.1,807.7 1061.5,808.0 1064.4,805.3 1067.4,802.4 1071.5,802.4 1073.3,806.5 1075.7,808.9 1077.4,807.7 1079.4,814.4 1082.7,812.4 1085.1,811.2 1087.7,807.3 1089.2,808.3 1091.6,811.6 1094.0,810.4 1096.0,808.3 1098.1,805.0 1099.9,808.3 1101.7,811.2 1103.4,808.5 1105.8,811.2 1109.3,812.4 1111.7,816.6 1113.7,818.7 1116.4,818.3 1119.4,817.5 1121.7,816.3 1123.5,813.6 1125.3,815.6 1127.7,812.4 1130.6,810.0 1133.0,809.2 1135.3,811.2 1137.7,810.0 1140.1,807.3 1143.0,808.5 1146.6,809.2 1148.9,809.5 1151.3,813.0 1153.1,812.4 1155.4,814.8 1157.8,812.8 1160.2,808.3 1162.9,805.3 1165.5,805.3 1167.8,804.5 1169.6,805.3 1171.4,810.0 1173.5,807.7 1174.9,813.2 1178.5,818.0 1181.4,821.5 1183.8,814.2 1186.2,810.6 1189.1,809.7 1193.3,809.2 1195.6,804.7 1197.6,805.3 1200.0,803.5 1200.0,803.5 1201.4,803.3 1203.8,805.3 1206.7,805.3 1209.1,805.7 1211.2,811.2 1213.2,810.6 1215.6,812.4 1218.0,811.8 1219.1,810.6 1221.2,815.4 1223.3,811.2 1225.7,814.4 1227.4,815.1 1230.4,813.2 1233.3,817.5 1239.8,817.5 1241.6,819.2 1243.4,815.6 1245.2,824.6 1247.5,820.7 1249.9,819.2 1252.2,817.5 1254.0,815.1 1255.8,813.6 1257.0,813.2" fill="none" stroke="#256eff" stroke-width="1" shape-rendering="crispEdges" stroke-linejoin="round"/><path d="M1.5 323V343M7.5 331V359M17.5 346V360M19.5 326V351M21.5 268V335M29.5 313V332M31.5 308V330M35.5 307V331M37.5 300V319M41.5 307V320M47.5 326V353M49.5 319V330M51.5 308V323M53.5 298V314M55.5 292V315M61.5 308V317M69.5 331V347M73.5 333V344M75.5 322V336M79.5 314V334M81.5 307V327M83.5 311V324M85.5 310V318M87.5 305V317M89.5 310V318M91.5 297V318M93.5 282V308M95.5 250V288M97.5 253V271M99.5 246V262M101.5 239V251M103.5 245V258M105.5 233V249M107.5 226V239M119.5 240V257M125.5 257V269M127.5 238V262M135.5 279V294M137.5 269V283M141.5 265V284M147.5 279V296M151.5 271V293M157.5 248V302M159.5 242V262M161.5 241V253M163.5 227V254M165.5 198V233M167.5 176V209M175.5 180V204M179.5 179V223M181.5 179V193M183.5 168V189M185.5 165V176M195.5 204V220M201.5 198V226M207.5 229V238M211.5 225V243M213.5 203V235M215.5 202V221M221.5 213V220M225.5 200V227M227.5 196V215M231.5 188V205M237.5 180V212M239.5 172V196M245.5 199V208M247.5 186V210M249.5 180V190M255.5 186V193M257.5 182V196M261.5 134V193M269.5 160V166M271.5 146V166M275.5 139V161M277.5 132V166M289.5 213V226M291.5 209V220M293.5 204V212M297.5 206V232M303.5 212V229M307.5 198V222M311.5 214V238M315.5 226V232M319.5 212V240M325.5 215V234M333.5 223V249M337.5 245V258M339.5 239V253M341.5 233V242M349.5 261V277M351.5 261V271M355.5 252V268M359.5 248V268M363.5 244V259M373.5 264V273M379.5 259V271M381.5 244V268M387.5 259V273M391.5 256V272M395.5 251V270M399.5 254V262M405.5 255V274M407.5 241V272M411.5 252V266M413.5 249V261M417.5 273V308M421.5 279V289M423.5 277V291M427.5 248V286M431.5 251V273M435.5 251V261M445.5 297V310M447.5 299V309M453.5 299V328M455.5 249V316M457.5 244V254M459.5 235V250M461.5 225V241M463.5 220V236M465.5 215V241M467.5 208V225M475.5 216V232M479.5 218V233M481.5 222V231M485.5 220V230M491.5 226V245M493.5 225V240M495.5 223V232M499.5 217V234M501.5 198V248M507.5 201V212M511.5 196V219M515.5 204V228M517.5 199V211M519.5 187V208M529.5 212V218M533.5 210V221M535.5 202V222M537.5 188V215M539.5 179V197M541.5 182V194M543.5 183V190M547.5 159V186M549.5 140V168M553.5 163V171M559.5 163V176M561.5 160V175M563.5 154V168M565.5 148V159M573.5 156V169M575.5 148V168M577.5 145V156M579.5 136V149M587.5 151V173M589.5 151V162M591.5 150V157M599.5 166V192M601.5 166V173M609.5 167V186M611.5 147V177M613.5 146V154M615.5 141V151M617.5 143V151M621.5 145V160M625.5 142V156M635.5 147V166M637.5 147V154M639.5 145V157M641.5 145V153M651.5 156V166M659.5 170V185M665.5 173V179M667.5 170V177M669.5 165V176M673.5 149V189M675.5 146V157M677.5 148V155M691.5 195V218M699.5 258V268M701.5 254V265M705.5 251V270M709.5 263V274M711.5 258V272M719.5 245V288M723.5 256V265M725.5 258V264M727.5 241V265M731.5 245V259M735.5 251V259M737.5 246V253M739.5 230V249M741.5 214V235M753.5 237V251M757.5 256V262M765.5 239V267M767.5 229V251M771.5 227V235M773.5 227V234M775.5 215V234M777.5 189V228M793.5 264V279M795.5 262V272M797.5 259V265M799.5 252V268M803.5 267V288M813.5 284V303M815.5 264V288M817.5 260V272M821.5 261V271M825.5 263V271M829.5 262V266M833.5 264V271M835.5 239V282M837.5 234V253M839.5 228V257M843.5 232V243M849.5 237V257M855.5 256V265M857.5 254V260M861.5 256V271M865.5 266V278M867.5 265V275M869.5 266V273M871.5 262V277M879.5 288V296M883.5 281V302M885.5 268V289M887.5 257V273M889.5 255V262M895.5 245V268M897.5 235V253M903.5 262V273M905.5 261V272M907.5 247V264M911.5 261V288M913.5 266V279M923.5 288V301M925.5 290V301M927.5 284V296M929.5 284V291M931.5 276V288M933.5 270V285M935.5 270V289M937.5 260V274M941.5 260V269M947.5 260V277M951.5 262V272M963.5 329V334M967.5 327V337M971.5 322V341M973.5 325V332M977.5 319V330M979.5 312V329M981.5 304V320M983.5 297V309M987.5 298V304M991.5 273V303M993.5 262V287M995.5 239V275M1001.5 230V259M1007.5 218V251M1009.5 211V229M1015.5 217V232M1017.5 210V231M1021.5 216V228M1025.5 217V228M1033.5 248V273M1035.5 250V262M1037.5 250V257M1043.5 237V268M1047.5 239V246M1049.5 228V242M1055.5 218V234M1057.5 211V224M1063.5 207V223M1065.5 198V217M1067.5 187V203M1069.5 184V191M1077.5 192V203M1081.5 205V217M1083.5 203V210M1085.5 200V210M1087.5 184V205M1093.5 168V202M1095.5 182V193M1097.5 171V186M1103.5 169V189M1109.5 183V193M1115.5 201V214M1117.5 200V208M1119.5 195V205M1121.5 195V203M1123.5 190V206M1127.5 181V199M1129.5 181V189M1131.5 174V186M1133.5 172V178M1137.5 170V186M1139.5 163V180M1149.5 159V174M1153.5 172V179M1157.5 175V182M1159.5 159V177M1161.5 153V171M1163.5 151V162M1167.5 147V154M1173.5 148V161M1183.5 168V188M1185.5 149V170M1187.5 140V155M1189.5 139V152M1191.5 139V146M1195.5 121V149M1199.5 106V125M1201.5 114V119M1207.5 110V125M1209.5 116V130M1213.5 125V133M1215.5 125V132M1219.5 119V134M1223.5 125V144M1229.5 130V136M1235.5 138V148M1239.5 136V143M1243.5 136V149M1247.5 153V166M1249.5 152V157M1251.5 146V155M1253.5 142V152M1255.5 132V147" stroke="#00bfff" stroke-width="1" fill="none"/><path d="M3.5 335V353M5.5 343V360M9.5 337V361M11.5 351V371M13.5 340V358M15.5 351V361M23.5 280V323M25.5 309V345M27.5 312V331M33.5 295V322M39.5 302V315M43.5 290V319M45.5 312V354M57.5 295V312M59.5 296V318M63.5 309V327M65.5 322V335M67.5 328V344M71.5 332V349M77.5 320V331M109.5 236V242M111.5 238V246M113.5 235V246M115.5 236V254M117.5 237V258M121.5 242V254M123.5 252V267M129.5 240V258M131.5 251V277M133.5 274V296M139.5 255V284M143.5 270V292M145.5 284V295M149.5 278V287M153.5 267V282M155.5 268V309M169.5 187V201M171.5 186V202M173.5 194V205M177.5 181V234M187.5 168V192M189.5 173V202M191.5 187V224M193.5 212V225M197.5 205V219M199.5 204V223M203.5 189V227M205.5 217V236M209.5 228V237M217.5 200V212M219.5 207V219M223.5 207V225M229.5 196V205M233.5 187V196M235.5 189V202M241.5 183V196M243.5 190V208M251.5 179V199M253.5 184V199M259.5 178V197M263.5 133V163M265.5 153V165M267.5 155V167M273.5 145V162M279.5 138V148M281.5 146V155M283.5 146V181M285.5 161V185M287.5 161V227M295.5 204V238M299.5 204V230M301.5 215V235M305.5 211V223M309.5 204V227M313.5 217V232M317.5 204V249M321.5 217V245M323.5 222V237M327.5 214V224M329.5 220V225M331.5 217V236M335.5 230V259M343.5 228V249M345.5 241V270M347.5 262V279M353.5 257V266M357.5 247V269M361.5 258V268M365.5 243V251M367.5 240V260M369.5 252V270M371.5 261V276M375.5 266V274M377.5 267V276M383.5 235V270M385.5 258V272M389.5 261V268M393.5 257V271M397.5 252V260M401.5 257V265M403.5 252V268M409.5 244V258M415.5 250V309M419.5 257V292M425.5 276V284M429.5 248V268M433.5 252V264M437.5 256V267M439.5 260V277M441.5 264V304M443.5 299V318M449.5 297V310M451.5 300V324M469.5 210V220M471.5 212V224M473.5 216V226M477.5 217V242M483.5 223V231M487.5 218V236M489.5 231V244M497.5 221V228M503.5 199V248M505.5 196V211M509.5 205V220M513.5 198V226M521.5 183V194M523.5 191V222M525.5 203V219M527.5 208V216M531.5 207V219M545.5 185V195M551.5 135V170M555.5 163V174M557.5 165V174M567.5 147V155M569.5 149V159M571.5 152V168M581.5 131V143M583.5 137V150M585.5 144V169M593.5 149V156M595.5 142V177M597.5 168V186M603.5 167V176M605.5 167V175M607.5 166V179M619.5 137V156M623.5 140V166M627.5 141V149M629.5 146V155M631.5 150V161M633.5 150V162M643.5 147V158M645.5 141V156M647.5 149V161M649.5 158V168M653.5 158V170M655.5 159V177M657.5 169V182M661.5 167V176M663.5 171V179M671.5 164V182M679.5 148V170M681.5 149V192M683.5 171V202M685.5 194V205M687.5 202V211M689.5 205V212M693.5 190V244M695.5 228V257M697.5 252V262M703.5 253V266M707.5 252V275M713.5 258V266M715.5 258V281M717.5 272V290M721.5 247V281M729.5 241V253M733.5 245V258M743.5 213V235M745.5 230V241M747.5 236V245M749.5 240V248M751.5 231V248M755.5 234V261M759.5 255V266M761.5 259V264M763.5 254V267M769.5 227V237M779.5 205V239M781.5 215V227M783.5 217V224M785.5 222V230M787.5 226V254M789.5 243V275M791.5 265V280M801.5 254V284M805.5 267V283M807.5 276V293M809.5 290V296M811.5 289V305M819.5 264V272M823.5 258V271M827.5 262V269M831.5 262V273M841.5 234V246M845.5 236V245M847.5 234V256M851.5 239V259M853.5 249V266M859.5 252V272M863.5 254V280M873.5 266V294M875.5 287V300M877.5 291V297M881.5 288V298M891.5 254V260M893.5 256V265M899.5 230V251M901.5 243V271M909.5 252V275M915.5 264V278M917.5 271V282M919.5 273V291M921.5 280V301M939.5 263V269M943.5 261V270M945.5 266V279M949.5 263V273M953.5 261V266M955.5 255V275M957.5 271V285M959.5 280V327M961.5 322V335M965.5 330V338M969.5 325V335M975.5 323V331M989.5 298V307M997.5 255V271M999.5 243V255M1003.5 236V250M1005.5 243V262M1011.5 215V227M1013.5 223V230M1019.5 211V233M1023.5 224V230M1027.5 223V232M1029.5 224V263M1031.5 246V274M1039.5 240V257M1041.5 249V267M1045.5 235V244M1051.5 219V232M1053.5 228V240M1059.5 208V220M1061.5 213V222M1071.5 185V190M1073.5 187V197M1075.5 191V202M1079.5 194V219M1089.5 180V192M1091.5 188V205M1099.5 165V179M1101.5 167V191M1105.5 172V193M1107.5 182V191M1111.5 183V201M1113.5 194V216M1125.5 188V199M1135.5 169V184M1141.5 164V171M1143.5 166V171M1145.5 166V173M1147.5 169V178M1151.5 166V179M1155.5 173V180M1165.5 149V155M1169.5 139V151M1171.5 147V163M1175.5 148V167M1177.5 163V172M1179.5 169V186M1181.5 177V188M1193.5 142V148M1197.5 108V126M1203.5 111V121M1205.5 113V121M1211.5 112V137M1217.5 131V136M1221.5 120V139M1225.5 125V136M1227.5 132V137M1231.5 129V138M1233.5 132V151M1237.5 137V143M1241.5 140V146M1245.5 133V164M1257.5 129V140" stroke="#ff0000" stroke-width="1" fill="none"/><path d="M985.5 296V308" stroke="#00ff00" stroke-width="1" fill="none"/><path d="M604 -1h11v2h-11zM615 0h12v2h-12zM627 1h11v2h-11zM638 2h12v2h-12zM650 3h12v2h-12zM662 4h11v2h-11zM673 5h12v2h-12zM685 6h12v2h-12zM697 7h11v2h-11zM708 8h12v2h-12zM720 9h12v2h-12zM732 10h11v2h-11zM743 11h12v2h-12zM755 12h12v2h-12zM767 13h11v2h-11zM778 14h12v2h-12zM790 15h12v2h-12zM802 16h11v2h-11zM813 17h12v2h-12zM825 18h12v2h-12zM837 19h12v2h-12zM849 20h11v2h-11zM860 21h12v2h-12zM872 22h12v2h-12zM884 23h11v2h-11zM895 24h12v2h-12zM907 25h12v2h-12zM919 26h11v2h-11zM930 27h12v2h-12zM942 28h12v2h-12zM954 29h11v2h-11zM965 30h12v2h-12zM977 31h12v2h-12zM989 32h11v2h-11zM1000 33h12v2h-12zM1012 34h12v2h-12zM1024 35h11v2h-11zM1035 36h12v2h-12zM1047 37h12v2h-12zM1059 38h11v2h-11zM1070 39h12v2h-12zM1082 40h12v2h-12zM1094 41h11v2h-11zM1105 42h12v2h-12zM1117 43h12v2h-12zM1129 44h11v2h-11zM1140 45h12v2h-12zM1152 46h12v2h-12zM1164 47h11v2h-11zM1175 48h12v2h-12zM1187 49h12v2h-12zM1199 50h11v2h-11zM1210 51h12v2h-12zM1222 52h12v2h-12zM1234 53h11v2h-11zM1245 54h12v2h-12zM1257 55h12v2h-12zM1269 56h11v2h-11zM1280 57h12v2h-12zM1292 58h12v2h-12zM1304 59h11v2h-11zM1315 60h12v2h-12zM1327 61h12v2h-12zM1339 62h11v2h-11zM1350 63h12v2h-12zM1362 64h12v2h-12zM1374 65h11v2h-11zM1385 66h12v2h-12zM1397 67h12v2h-12zM1409 68h11v2h-11zM1420 69h12v2h-12zM1432 70h12v2h-12zM1444 71h11v2h-11zM1455 72h12v2h-12zM1467 73h12v2h-12zM1479 74h11v2h-11zM1490 75h12v2h-12zM1502 76h12v2h-12zM1514 77h11v2h-11zM1525 78h12v2h-12zM1537 79h12v2h-12zM1549 80h11v2h-11zM1560 81h12v2h-12zM1572 82h12v2h-12zM1584 83h11v2h-11zM1595 84h12v2h-12zM1607 85h12v2h-12zM1619 86h11v2h-11z" fill="#1e90ff"/><rect x="1188" y="188" width="118" height="2" fill="#fff"/><rect x="1187" y="189" width="1" height="1" fill="#fff"/><path d="M1254.5 0H1262.5L1258.5 4.5z" fill="#7b8a9e" shape-rendering="auto"/><rect x="1512" y="175" width="4" height="3" fill="#000"/><g shape-rendering="crispEdges" fill="none" stroke-linecap="butt" stroke="#fa1d25" stroke-width="3"><path d="M1265.4 178L1301 85.3"/><path d="M1304.4 85.3L1395.3 268.6"/><path d="M1379.8 260.2L1395.6 269.2"/><path d="M1391.5 248L1395 269.2"/></g><g shape-rendering="crispEdges" fill="none" stroke-linecap="butt" stroke="#fff"><path d="M1245 212L1272 272.2" stroke-width="2.4"/><path d="M1261.2 263.4L1272.4 272.4" stroke-width="2.8"/><path d="M1270.6 257.4L1272 272.4" stroke-width="2.8"/></g></svg><div class="ax" style="left:1637px;top:14px;">1.27910</div><div class="ax" style="left:1637px;top:63px;">1.26410</div><div class="ax" style="left:1637px;top:112px;">1.24880</div><div class="ax" style="left:1637px;top:161px;">1.23380</div><div class="ax" style="left:1637px;top:210px;">1.21850</div><div class="ax" style="left:1637px;top:259px;">1.20320</div><div class="ax" style="left:1637px;top:308px;">1.18820</div><div class="ax" style="left:1637px;top:357px;">1.17290</div><div class="ax" style="left:1637px;top:406px;">1.15790</div><div class="ax" style="left:1637px;top:455px;">1.14260</div><div class="ax" style="left:1637px;top:504px;">1.12760</div><div class="ax" style="left:1637px;top:553px;">1.11230</div><div class="ax" style="left:1637px;top:602px;">1.09730</div><div class="ax" style="left:1637px;top:651px;">1.08200</div><div class="ax" style="left:1634px;top:681px;">0.010797</div><div class="ax" style="left:1634px;top:729px;">0.00</div><div class="ax" style="left:1633px;top:769px;">-0.009345</div><div class="ax" style="left:1634px;top:788px;">100</div><div class="ax" style="left:1633px;top:798px;">70</div><div class="ax" style="left:1633px;top:821px;">30</div><div class="ax" style="left:1634px;top:831px;">0</div><div class="cur" style="left:1632px;top:131px;width:56px;height:14px"><span>1.24261</span></div><div class="ax" style="left:-4.5px;top:1px;word-spacing:1.5px">223 1.24261</div><div class="ttl" style="left:377px;top:33px">GBPUSD</div><div class="ttl" style="left:376.5px;top:71.5px;letter-spacing:0.55px;word-spacing:1.8px">H4 Chart</div><div class="lv" style="left:1256px;top:38px;color:#1e90ff">1.2670</div><div class="lv" style="left:1249px;top:191px">1.2275</div><div class="lv" style="left:1262px;top:286px">1.2050</div></body></html>
